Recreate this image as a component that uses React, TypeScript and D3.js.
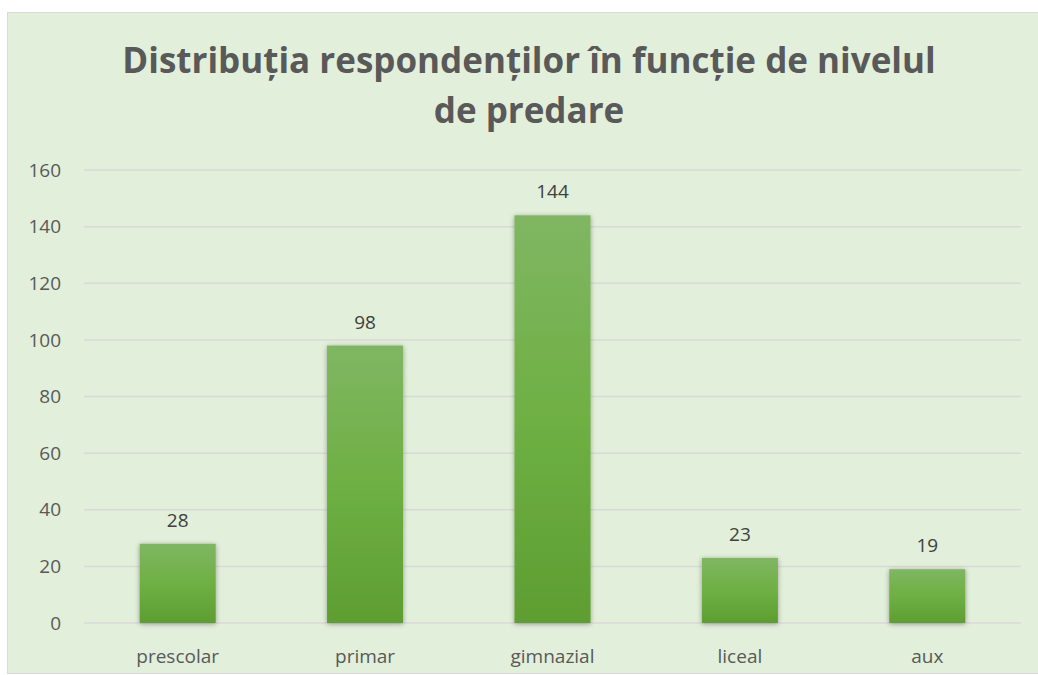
// @ts-nocheck
import React, { useRef, useEffect } from "react";
import * as d3 from "d3";

const categories = ["prescolar", "primar", "gimnazial", "liceal", "aux"];
const values = [28, 98, 144, 23, 19];
const yTicks = [0, 20, 40, 60, 80, 100, 120, 140, 160];
const titleLines = ["Distribuția respondenților în funcție de nivelul", "de predare"];

const BarChart = ({ width = 1038, height = 675 }) => {
  const svgRef = useRef(null);

  useEffect(() => {
    const svg = d3.select(svgRef.current);
    svg.selectAll("*").remove();

    const marginTop = 170,
      marginRight = 17,
      marginBottom = 52,
      marginLeft = 84;

    svg.attr("width", width).attr("height", height).attr("viewBox", [0, 0, width, height]);

    const defs = svg.append("defs");
    const grad = defs
      .append("linearGradient")
      .attr("id", "barGrad")
      .attr("x1", 0)
      .attr("y1", 0)
      .attr("x2", 0)
      .attr("y2", 1);
    grad.append("stop").attr("offset", "0%").attr("stop-color", "#80b663");
    grad.append("stop").attr("offset", "50%").attr("stop-color", "#6eb043");
    grad.append("stop").attr("offset", "100%").attr("stop-color", "#5e9e31");

    const shadow = defs
      .append("filter")
      .attr("id", "shadow")
      .attr("x", "-20%")
      .attr("y", "-20%")
      .attr("width", "140%")
      .attr("height", "140%");
    shadow
      .append("feDropShadow")
      .attr("dx", 0)
      .attr("dy", 1)
      .attr("stdDeviation", 2.5)
      .attr("flood-color", "#000")
      .attr("flood-opacity", 0.35);

    // chart area background
    svg
      .append("rect")
      .attr("x", 7.5)
      .attr("y", 12.5)
      .attr("width", width - 7)
      .attr("height", height - 14)
      .attr("fill", "#e2efda")
      .attr("stroke", "#d9d9d9")
      .attr("stroke-width", 1);

    const x = d3
      .scaleBand()
      .domain(categories)
      .range([marginLeft, width - marginRight])
      .paddingInner(0.594)
      .paddingOuter(0.297);

    const y = d3
      .scaleLinear()
      .domain([0, 160])
      .range([height - marginBottom, marginTop]);

    const font = "'Open Sans', sans-serif";

    // title
    svg
      .append("g")
      .selectAll("text")
      .data(titleLines)
      .join("text")
      .attr("x", 529)
      .attr("y", (d, i) => 73 + i * 50)
      .attr("text-anchor", "middle")
      .attr("font-family", font)
      .attr("font-weight", "bold")
      .attr("font-size", 35)
      .attr("fill", "#595959")
      .text((d) => d);

    // gridlines
    svg
      .append("g")
      .selectAll("line")
      .data(yTicks)
      .join("line")
      .attr("x1", marginLeft)
      .attr("x2", width - marginRight)
      .attr("y1", (d) => y(d))
      .attr("y2", (d) => y(d))
      .attr("stroke", "#d9d9d9")
      .attr("stroke-width", 1.5);

    // y axis labels
    svg
      .append("g")
      .selectAll("text")
      .data(yTicks)
      .join("text")
      .attr("x", 61)
      .attr("y", (d) => y(d))
      .attr("dy", "0.35em")
      .attr("text-anchor", "end")
      .attr("font-family", font)
      .attr("font-size", 19)
      .attr("fill", "#595959")
      .text((d) => d);

    const rows = categories.map((c, i) => ({ c, v: values[i] }));

    // bars
    svg
      .append("g")
      .selectAll("rect")
      .data(rows)
      .join("rect")
      .attr("x", (d) => x(d.c))
      .attr("y", (d) => y(d.v))
      .attr("width", x.bandwidth())
      .attr("height", (d) => y(0) - y(d.v))
      .attr("fill", "url(#barGrad)")
      .attr("filter", "url(#shadow)");

    // value labels
    svg
      .append("g")
      .selectAll("text")
      .data(rows)
      .join("text")
      .attr("x", (d) => x(d.c) + x.bandwidth() / 2)
      .attr("y", (d) => y(d.v) - 17)
      .attr("text-anchor", "middle")
      .attr("font-family", font)
      .attr("font-size", 19)
      .attr("fill", "#404040")
      .text((d) => d.v);

    // x axis labels
    svg
      .append("g")
      .selectAll("text")
      .data(categories)
      .join("text")
      .attr("x", (d) => x(d) + x.bandwidth() / 2)
      .attr("y", height - 12)
      .attr("text-anchor", "middle")
      .attr("font-family", font)
      .attr("font-size", 19)
      .attr("fill", "#595959")
      .text((d) => d);
  }, [width, height]);

  return <svg ref={svgRef} style={{ position: "absolute", left: 0, top: 0 }}></svg>;
};

export default function App() {
  return <BarChart />;
}
